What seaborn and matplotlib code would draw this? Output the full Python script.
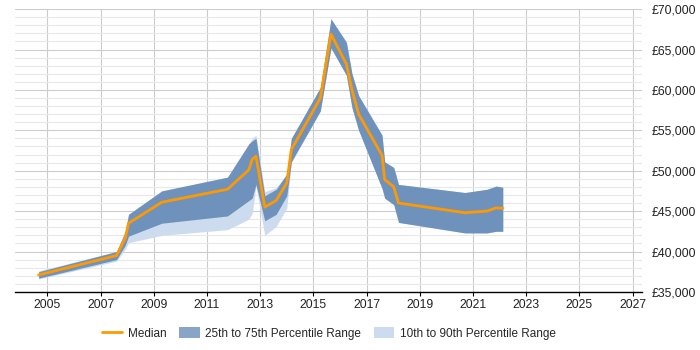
import matplotlib
matplotlib.use("Agg")
import matplotlib.pyplot as plt
from matplotlib.lines import Line2D
from matplotlib.patches import Patch
from matplotlib.ticker import MultipleLocator, FuncFormatter
import pandas as pd
import seaborn as sns

# sample dates (decimal years)
years = [2004.67, 2007.6, 2007.93, 2008.05, 2009.3, 2011.77, 2012.57, 2012.7,
         2012.84, 2013.17, 2013.6, 2014.0, 2014.17, 2015.26, 2015.66, 2016.24,
         2016.45, 2016.7, 2017.58, 2017.68, 2018.02, 2018.2, 2020.7, 2021.53,
         2021.87, 2022.12]

median = [37100, 39500, 41700, 43500, 46100, 47700, 50100, 51400,
          51800, 45500, 46300, 48500, 52600, 59000, 66900, 63200,
          60000, 57000, 51900, 48900, 48000, 46000, 44800, 45000,
          45400, 45350]

p75 = [37500, 40000, 42500, 44600, 47500, 49200, 53300, 53700,
       54000, 46900, 47700, 49600, 54000, 60300, 68800, 65900,
       62000, 59300, 54400, 51100, 50400, 48300, 47300, 47700,
       48100, 47950]

p25 = [36700, 39000, 40800, 41900, 43500, 44400, 46300, 46600,
       48300, 43800, 44600, 46900, 51100, 57400, 65200, 61800,
       57800, 55000, 47800, 46600, 45800, 43600, 42300, 42300,
       42500, 42500]

p90 = [37600, 40000, 42500, 44600, 47500, 49200, 53300, 54000,
       54400, 47400, 47900, 49600, 54000, 60300, 68800, 65900,
       62000, 59300, 54400, 51100, 50400, 48300, 47300, 47700,
       48100, 47950]

p10 = [36600, 38800, 40300, 41100, 42000, 42700, 44000, 44700,
       48100, 42000, 43100, 45400, 51000, 57400, 65200, 61800,
       57800, 55000, 47800, 46600, 45800, 43600, 42300, 42300,
       42500, 42500]

df = pd.DataFrame({"year": years, "median": median,
                   "p10": p10, "p25": p25, "p75": p75, "p90": p90})

dark = "#6f92bd"
light = "#ccdcee"
orange = "#ff9900"

sns.set_style("white")
plt.rcParams["font.family"] = ["Liberation Sans", "DejaVu Sans"]

fig = plt.figure(figsize=(7, 3.5), dpi=100)
ax = fig.add_axes([0.021, 0.166, 0.896, 0.808])

ax.fill_between(df["year"], df["p10"], df["p90"], color=light, lw=0, zorder=2)
ax.fill_between(df["year"], df["p25"], df["p75"], color=dark, lw=0, zorder=3)
sns.lineplot(data=df, x="year", y="median", color=orange, lw=2, ax=ax, zorder=4)

ax.set_xlim(2003.77, 2027.35)
ax.set_ylim(35000, 70000)
ax.xaxis.set_major_locator(MultipleLocator(2, offset=1))
ax.yaxis.set_major_locator(MultipleLocator(5000))
ax.yaxis.set_minor_locator(MultipleLocator(1000))
ax.xaxis.set_major_formatter(FuncFormatter(lambda v, p: f"{int(round(v))}"))
ax.yaxis.set_major_formatter(FuncFormatter(lambda v, p: f"£{int(v):,}"))
ax.yaxis.tick_right()

ax.grid(axis="y", which="major", color="#cccccc", lw=0.8, zorder=0)
ax.grid(axis="y", which="minor", color="#e8e8e8", lw=0.8, zorder=0)
ax.grid(axis="x", which="major", color="#cccccc", lw=0.8, zorder=0)

for s in ["top", "left", "right"]:
    ax.spines[s].set_visible(False)
ax.spines["bottom"].set_color("black")
ax.spines["bottom"].set_linewidth(1)

ax.tick_params(axis="x", which="major", length=3, color="black", labelsize=8.8,
               labelcolor="#222222", pad=2, bottom=True)
ax.tick_params(axis="y", which="both", length=0, labelsize=8.8,
               labelcolor="#222222", pad=7)
ax.set_xlabel("")
ax.set_ylabel("")

handles = [Line2D([0], [0], color=orange, lw=2),
           Patch(facecolor="#88a5c7", edgecolor="none"),
           Patch(facecolor=light, edgecolor="none")]
labels = ["Median", "25th to 75th Percentile Range", "10th to 90th Percentile Range"]
fig.legend(handles, labels, loc="center", bbox_to_anchor=(0.47, 0.048), ncol=3,
           frameon=False, fontsize=8.5, handlelength=1.7, handleheight=1.1,
           columnspacing=1.1, handletextpad=0.5)

fig.savefig("out.png", dpi=100)
